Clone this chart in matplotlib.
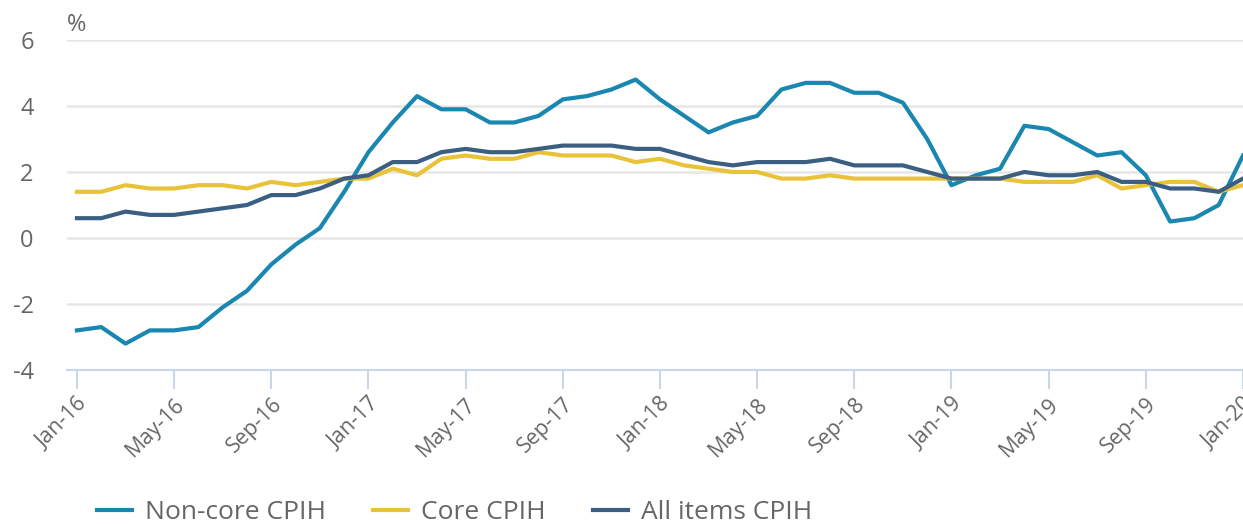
import matplotlib
matplotlib.use("Agg")
import matplotlib.pyplot as plt

months = ["Jan-16", "Feb-16", "Mar-16", "Apr-16", "May-16", "Jun-16", "Jul-16", "Aug-16",
          "Sep-16", "Oct-16", "Nov-16", "Dec-16", "Jan-17", "Feb-17", "Mar-17", "Apr-17",
          "May-17", "Jun-17", "Jul-17", "Aug-17", "Sep-17", "Oct-17", "Nov-17", "Dec-17",
          "Jan-18", "Feb-18", "Mar-18", "Apr-18", "May-18", "Jun-18", "Jul-18", "Aug-18",
          "Sep-18", "Oct-18", "Nov-18", "Dec-18", "Jan-19", "Feb-19", "Mar-19", "Apr-19",
          "May-19", "Jun-19", "Jul-19", "Aug-19", "Sep-19", "Oct-19", "Nov-19", "Dec-19",
          "Jan-20"]

non_core = [-2.8, -2.7, -3.2, -2.8, -2.8, -2.7, -2.1, -1.6, -0.8, -0.2, 0.3, 1.4,
            2.6, 3.5, 4.3, 3.9, 3.9, 3.5, 3.5, 3.7, 4.2, 4.3, 4.5, 4.8,
            4.2, 3.7, 3.2, 3.5, 3.7, 4.5, 4.7, 4.7, 4.4, 4.4, 4.1, 3.0,
            1.6, 1.9, 2.1, 3.4, 3.3, 2.9, 2.5, 2.6, 1.9, 0.5, 0.6, 1.0,
            2.5]
core = [1.4, 1.4, 1.6, 1.5, 1.5, 1.6, 1.6, 1.5, 1.7, 1.6, 1.7, 1.8,
        1.8, 2.1, 1.9, 2.4, 2.5, 2.4, 2.4, 2.6, 2.5, 2.5, 2.5, 2.3,
        2.4, 2.2, 2.1, 2.0, 2.0, 1.8, 1.8, 1.9, 1.8, 1.8, 1.8, 1.8,
        1.8, 1.8, 1.8, 1.7, 1.7, 1.7, 1.9, 1.5, 1.6, 1.7, 1.7, 1.4,
        1.6]
all_items = [0.6, 0.6, 0.8, 0.7, 0.7, 0.8, 0.9, 1.0, 1.3, 1.3, 1.5, 1.8,
             1.9, 2.3, 2.3, 2.6, 2.7, 2.6, 2.6, 2.7, 2.8, 2.8, 2.8, 2.7,
             2.7, 2.5, 2.3, 2.2, 2.3, 2.3, 2.3, 2.4, 2.2, 2.2, 2.2, 2.0,
             1.8, 1.8, 1.8, 2.0, 1.9, 1.9, 2.0, 1.7, 1.7, 1.5, 1.5, 1.4,
             1.8]

plt.rcParams['font.family'] = ['Open Sans', 'DejaVu Sans']

fig = plt.figure(figsize=(12.43, 5.24), dpi=100)
ax = fig.add_axes([0.0539, 0.2939, 0.9461, 0.6298])

x = list(range(len(months)))
ax.plot(x, non_core, color="#1a87b0", lw=3, label="Non-core CPIH", zorder=3)
ax.plot(x, core, color="#e8c33a", lw=3, label="Core CPIH", zorder=3)
ax.plot(x, all_items, color="#3a5f82", lw=3, label="All items CPIH", zorder=4)

ax.set_xlim(-0.41, 48)
ax.set_ylim(-4, 6)
ax.set_yticks([-4, -2, 0, 2, 4, 6])
ax.set_yticklabels(["-4", "-2", "0", "2", "4", "6"])
ax.grid(axis="y", color="#e6e6e6", lw=1.8)
ax.set_axisbelow(True)

# every 4th month gets a tick, label rotated like the original
ax.set_xticks(x[::4])
ax.set_xticklabels(months[::4], rotation=45, ha="right", rotation_mode="anchor")

for s in ["top", "right", "left"]:
    ax.spines[s].set_visible(False)
ax.spines["bottom"].set_color("#ccd6eb")
ax.spines["bottom"].set_linewidth(1.5)

ax.tick_params(axis="x", length=14, width=1.5, color="#ccd6eb", labelcolor="#666666",
               labelsize=15.5, pad=3)
ax.tick_params(axis="y", length=0, labelcolor="#666666", labelsize=17, pad=24)

ax.text(0.0, 1.01, "%", transform=ax.transAxes, color="#666666", fontsize=17,
        ha="left", va="bottom")

fig.legend(loc="center left", bbox_to_anchor=(0.078, 0.021), ncol=3, frameon=False,
           fontsize=19, handlelength=1.33, handletextpad=0.49, columnspacing=1.78,
           borderpad=0, borderaxespad=0, labelcolor="#666666")

fig.savefig("out.png", dpi=100)
